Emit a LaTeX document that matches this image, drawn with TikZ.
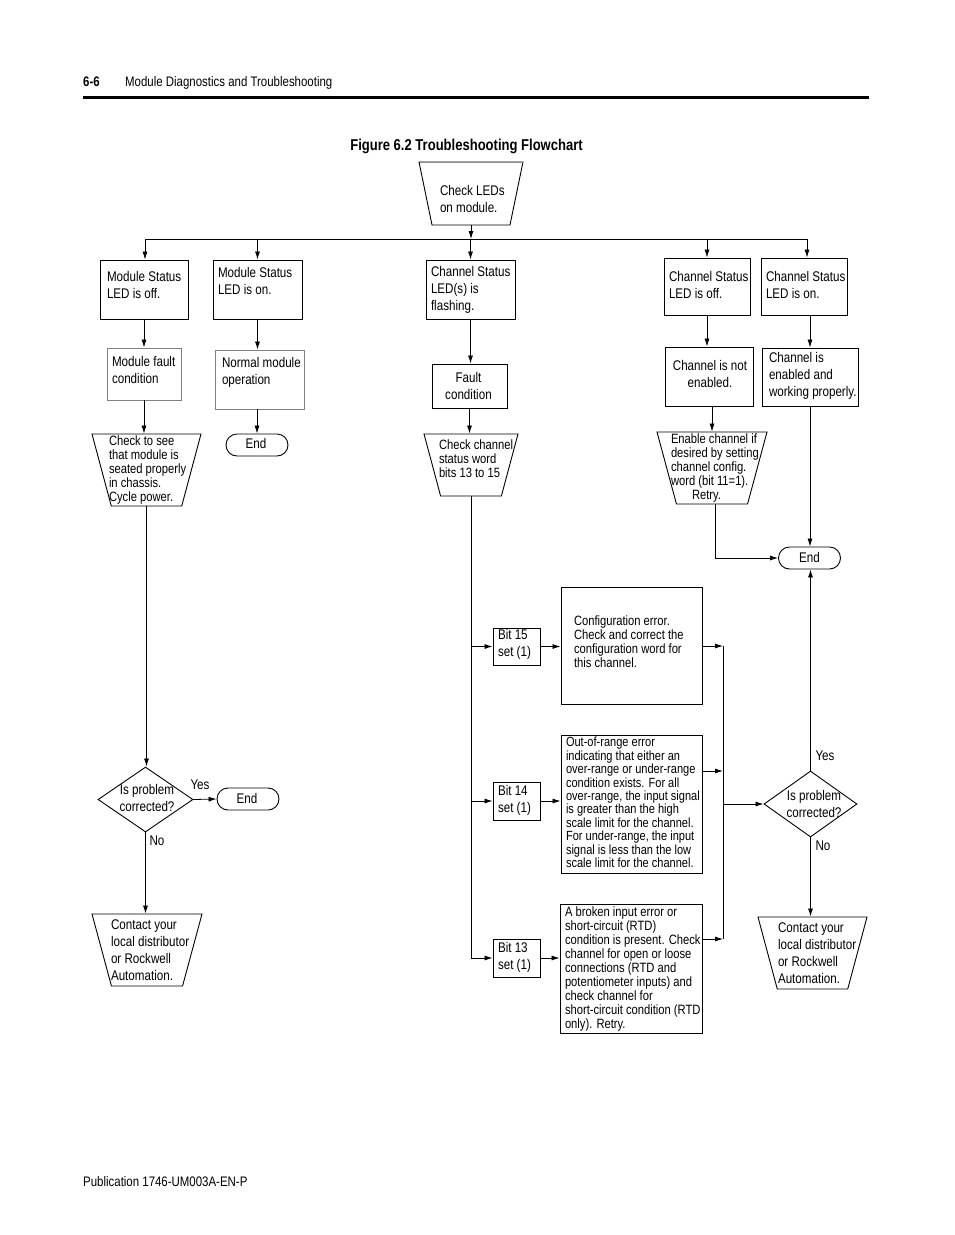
\documentclass[tikz,border=0pt]{standalone}
\usepackage{fontspec}
\setmainfont{Liberation Sans}[FakeStretch=0.83]
\usetikzlibrary{arrows.meta}
\usetikzlibrary{shapes.geometric}
\usetikzlibrary{calc}
\newcommand{\normtext}{\fontsize{14}{17}\selectfont}
\newcommand{\densetext}{\fontsize{13.5}{14}\selectfont}
\tikzset{
	arr/.style={-{Latex[length=8pt,width=5pt]}, line width=0.8pt},
	box/.style={draw, line width=0.9pt, rectangle, inner sep=0pt},
	greybox/.style={box, draw=black!50},
	trap/.style={draw, line width=0.9pt, trapezium, trapezium angle=77, trapezium stretches=true, shape border rotate=180, inner sep=1pt},
	choice/.style={draw, line width=0.9pt, diamond, inner sep=0pt},
	endbox/.style={draw, line width=0.9pt, rectangle, rounded corners=11pt, inner sep=0pt, minimum width=62pt, minimum height=22pt},
	% left-aligned texts sit in a 160pt wide block
	txt/.style={align=flush left, text width=160pt, inner sep=0pt, font=\normtext},
	dtxt/.style={txt, font=\densetext},
	ctxt/.style={align=center, inner sep=0pt, font=\normtext},
	lbl/.style={inner sep=0pt, font=\normtext}
}
\begin{document}
\begin{tikzpicture}[x=1pt,y=-1pt]
	\useasboundingbox (0,0) rectangle (954,1235);
	\fill[white] (0,0) rectangle (954,1235);
	
	% page header and footer
	\node[anchor=base west, inner sep=0pt, font=\fontsize{13.8}{16}\selectfont\bfseries] (pgno) at (83,86) {6-6};
	\node[anchor=base west, inner sep=0pt, font=\fontsize{13.8}{16}\selectfont] (chap) at (125,86) {Module Diagnostics and Troubleshooting};
	\draw[line width=3.5pt] (83,97.5) -- (869,97.5);
	\node[anchor=base, inner sep=0pt, font=\fontsize{15.7}{18}\selectfont\bfseries] (title) at (466.5,150) {Figure 6.2 Troubleshooting Flowchart};
	\node[anchor=base west, inner sep=0pt, font=\fontsize{13.8}{16}\selectfont] (pub) at (83,1186) {Publication 1746-UM003A-EN-P};
	
	% start
	\node[trap, trapezium angle=82, minimum width=104pt, minimum height=63pt, label={[txt,xshift=49pt,yshift=-5pt]center:{Check LEDs\\on module.}}] (leds) at (471,193.5) {\phantom{x}};
	\draw[white, line width=1pt] (420,162) -- (522,162);
	\draw[black!45, line width=0.9pt] (419.5,162) -- (522.5,162);
	\coordinate (busL) at (145,239);
	\coordinate (busR) at (807,239);
	
	% LED states
	\node[box, minimum width=88pt, minimum height=59pt, label={[txt,xshift=43pt,yshift=5pt]center:{Module Status\\LED is off.}}] (msoff) at (144,289.5) {};
	\node[box, minimum width=89pt, minimum height=59pt, label={[txt,xshift=40.5pt,yshift=9pt]center:{Module Status\\LED is on.}}] (mson) at (257.5,289.5) {};
	\node[box, minimum width=89pt, minimum height=59pt, label={[txt,xshift=40.5pt]center:{Channel Status\\LED(s) is\\flashing.}}] (chfl) at (470.5,289.5) {};
	\node[box, minimum width=86pt, minimum height=57pt, label={[txt,xshift=42pt,yshift=2pt]center:{Channel Status\\LED is off.}}] (choff) at (707,286.5) {};
	\node[box, minimum width=86pt, minimum height=57pt, label={[txt,xshift=42pt,yshift=2pt]center:{Channel Status\\LED is on.}}] (chon) at (804,286.5) {};
	
	% second row
	\node[greybox, minimum width=74pt, minimum height=52pt, label={[txt,xshift=48pt,yshift=4.5pt]center:{Module fault\\condition}}] (mfault) at (144,374) {};
	\node[greybox, minimum width=89pt, minimum height=59pt, label={[txt,xshift=42.5pt,yshift=7pt]center:{Normal module\\operation}}] (normal) at (259.5,379.5) {};
	\node[box, minimum width=75pt, minimum height=44pt, label={[ctxt,xshift=-1pt]center:{Fault\\condition}}] (fault) at (469.5,386) {};
	\node[box, minimum width=88pt, minimum height=59pt, label={[ctxt,xshift=1pt,yshift=3pt]center:{Channel is not\\enabled.}}] (notena) at (709,376.5) {};
	\node[box, minimum width=96pt, minimum height=58pt, label={[txt,xshift=39pt,yshift=1pt]center:{Channel is\\enabled and\\working properly.}}] (ena) at (810,377) {};
	
	% third row
	\node[trap, minimum width=109pt, minimum height=72pt, label={[dtxt,xshift=42.5pt]center:{Check to see\\that module is\\seated properly\\in chassis.\\Cycle power.}}] (seat) at (146.5,470) {\phantom{x}};
	\node[endbox, label={[lbl,xshift=-1pt,yshift=2pt]center:End}] (end1) at (257,445) {};
	\node[trap, minimum width=94pt, minimum height=62pt, label={[dtxt,xshift=48pt,yshift=6pt]center:{Check channel\\status word\\bits 13 to 15}}] (chkw) at (471,465) {\phantom{x}};
	\node[trap, minimum width=110pt, minimum height=72pt, label={[dtxt,xshift=39pt]center:{Enable channel if\\desired by setting\\channel config.\\word (bit 11=1).\\\hspace*{21pt}Retry.}}] (enable) at (712,468) {\phantom{x}};
	\node[endbox, label={[lbl,yshift=1pt]center:End}] (end3) at (809.5,558) {};
	
	% status bits
	\node[box, minimum width=47pt, minimum height=37pt, label={[txt,xshift=61.5pt,yshift=2pt]center:{Bit 15\\set (1)}}] (bit15) at (516.5,646.5) {};
	\node[box, minimum width=47pt, minimum height=38pt, label={[txt,xshift=61.5pt,yshift=1pt]center:{Bit 14\\set (1)}}] (bit14) at (516.5,801) {};
	\node[box, minimum width=47pt, minimum height=38pt, label={[txt,xshift=61.5pt,yshift=0.5pt]center:{Bit 13\\set (1)}}] (bit13) at (516.5,958) {};
	\node[box, minimum width=141pt, minimum height=117pt, label={[dtxt,xshift=22.5pt,yshift=3.5pt]center:{Configuration error.\\Check and correct the\\configuration word for\\this channel.}}] (cfg) at (631.5,645.5) {};
	\node[box, minimum width=141pt, minimum height=138pt, label={[dtxt,font=\fontsize{13.3}{13.45}\selectfont,xshift=14.5pt,yshift=1.5pt]center:{Out-of-range error\\indicating that either an\\over-range or under-range\\condition exists. For all\\over-range, the input signal\\is greater than the high\\scale limit for the channel.\\For under-range, the input\\signal is less than the low\\scale limit for the channel.}}] (oor) at (631.5,804) {};
	\node[box, minimum width=142pt, minimum height=129pt, label={[dtxt,xshift=14pt]center:{A broken input error or\\short-circuit (RTD)\\condition is present. Check\\channel for open or loose\\connections (RTD and\\potentiometer inputs) and\\check channel for\\short-circuit condition (RTD\\only). Retry.}}] (brk) at (631,968.5) {};
	\coordinate (rtop) at (723,646);
	\coordinate (rbot) at (723,939);
	
	% decisions
	\node[choice, minimum width=95pt, minimum height=65pt, label={[ctxt,xshift=1.5pt,yshift=2pt]center:{Is problem\\corrected?}}] (dia1) at (145.5,799.5) {};
	\node[endbox, label={[lbl,xshift=-1pt,yshift=1pt]center:End}] (end2) at (248,799) {};
	\node[trap, minimum width=110pt, minimum height=72pt, label={[txt,xshift=44pt]center:{Contact your\\local distributor\\or Rockwell\\Automation.}}] (cont1) at (147,950) {\phantom{x}};
	\node[choice, minimum width=93pt, minimum height=66pt, label={[ctxt,xshift=3.5pt]center:{Is problem\\corrected?}}] (dia2) at (810.5,804) {};
	\node[trap, minimum width=109pt, minimum height=72pt, label={[txt,xshift=45.5pt]center:{Contact your\\local distributor\\or Rockwell\\Automation.}}] (cont2) at (812.5,953) {\phantom{x}};
	\node[lbl] (yes1) at (200,785) {Yes};
	\node[lbl] (no1) at (157,841) {No};
	\node[lbl] (yes2) at (825,756) {Yes};
	\node[lbl] (no2) at (823,846) {No};
	
	% top connectors
	\draw[arr] (leds.south) -- (leds.south |- busL);
	\draw[line width=0.8pt] (busL) -- (busR);
	\draw[arr] (busL) -- (busL |- msoff.north);
	\draw[arr] (mson.north |- busL) -- (mson.north);
	\draw[arr] (chfl.north |- busL) -- (chfl.north);
	\draw[arr] (choff.north |- busL) -- (choff.north);
	\draw[arr] (busR) -- (busR |- chon.north);
	
	% module branches
	\draw[arr] (msoff.south) -- (msoff.south |- mfault.north);
	\draw[arr] (mson.south) -- (mson.south |- normal.north);
	\draw[arr] (mfault.south) -- (mfault.south |- seat.north);
	\draw[arr] (end1.north |- normal.south) -- (end1.north);
	\draw[arr] (seat.south) -- (seat.south |- dia1.north);
	\draw[arr] (dia1.east) -- (end2.west);
	\draw[arr] (dia1.south) -- (dia1.south |- cont1.north);
	
	% channel branches
	\draw[arr] (chfl.south) -- (chfl.south |- fault.north);
	\draw[arr] (fault.south) -- (fault.south |- chkw.north);
	\draw[arr] (choff.south) -- (choff.south |- notena.north);
	\draw[arr] (enable.north |- notena.south) -- (enable.north);
	\draw[arr] (ena.north |- chon.south) -- (ena.north);
	\draw[arr] ([xshift=3pt]enable.south) |- (end3.west);
	\draw[arr] (ena.south) -- (ena.south |- end3.north);
	
	% bits
	\draw[arr] (chkw.south) |- (bit13.west);
	\draw[arr] (chkw.south |- bit15.west) -- (bit15.west);
	\draw[arr] (chkw.south |- bit14.west) -- (bit14.west);
	\draw[arr] (bit15.east) -- (bit15.east -| cfg.west);
	\draw[arr] (bit14.east) -- (bit14.east -| oor.west);
	\draw[arr] (bit13.east) -- (bit13.east -| brk.west);
	\draw[arr] (cfg.east |- rtop) -- (rtop);
	\draw[arr] ([yshift=33pt]oor.east) -- ([yshift=33pt]oor.east -| rtop);
	\draw[arr] ([yshift=29.5pt]brk.east) -- (rbot);
	\draw[line width=0.8pt] (rtop) -- (rbot);
	\draw[arr] (rtop |- dia2.west) -- (dia2.west);
	\draw[arr] (dia2.north) -- (dia2.north |- end3.south);
	\draw[arr] (dia2.south) -- (dia2.south |- cont2.north);
\end{tikzpicture}
\end{document}
